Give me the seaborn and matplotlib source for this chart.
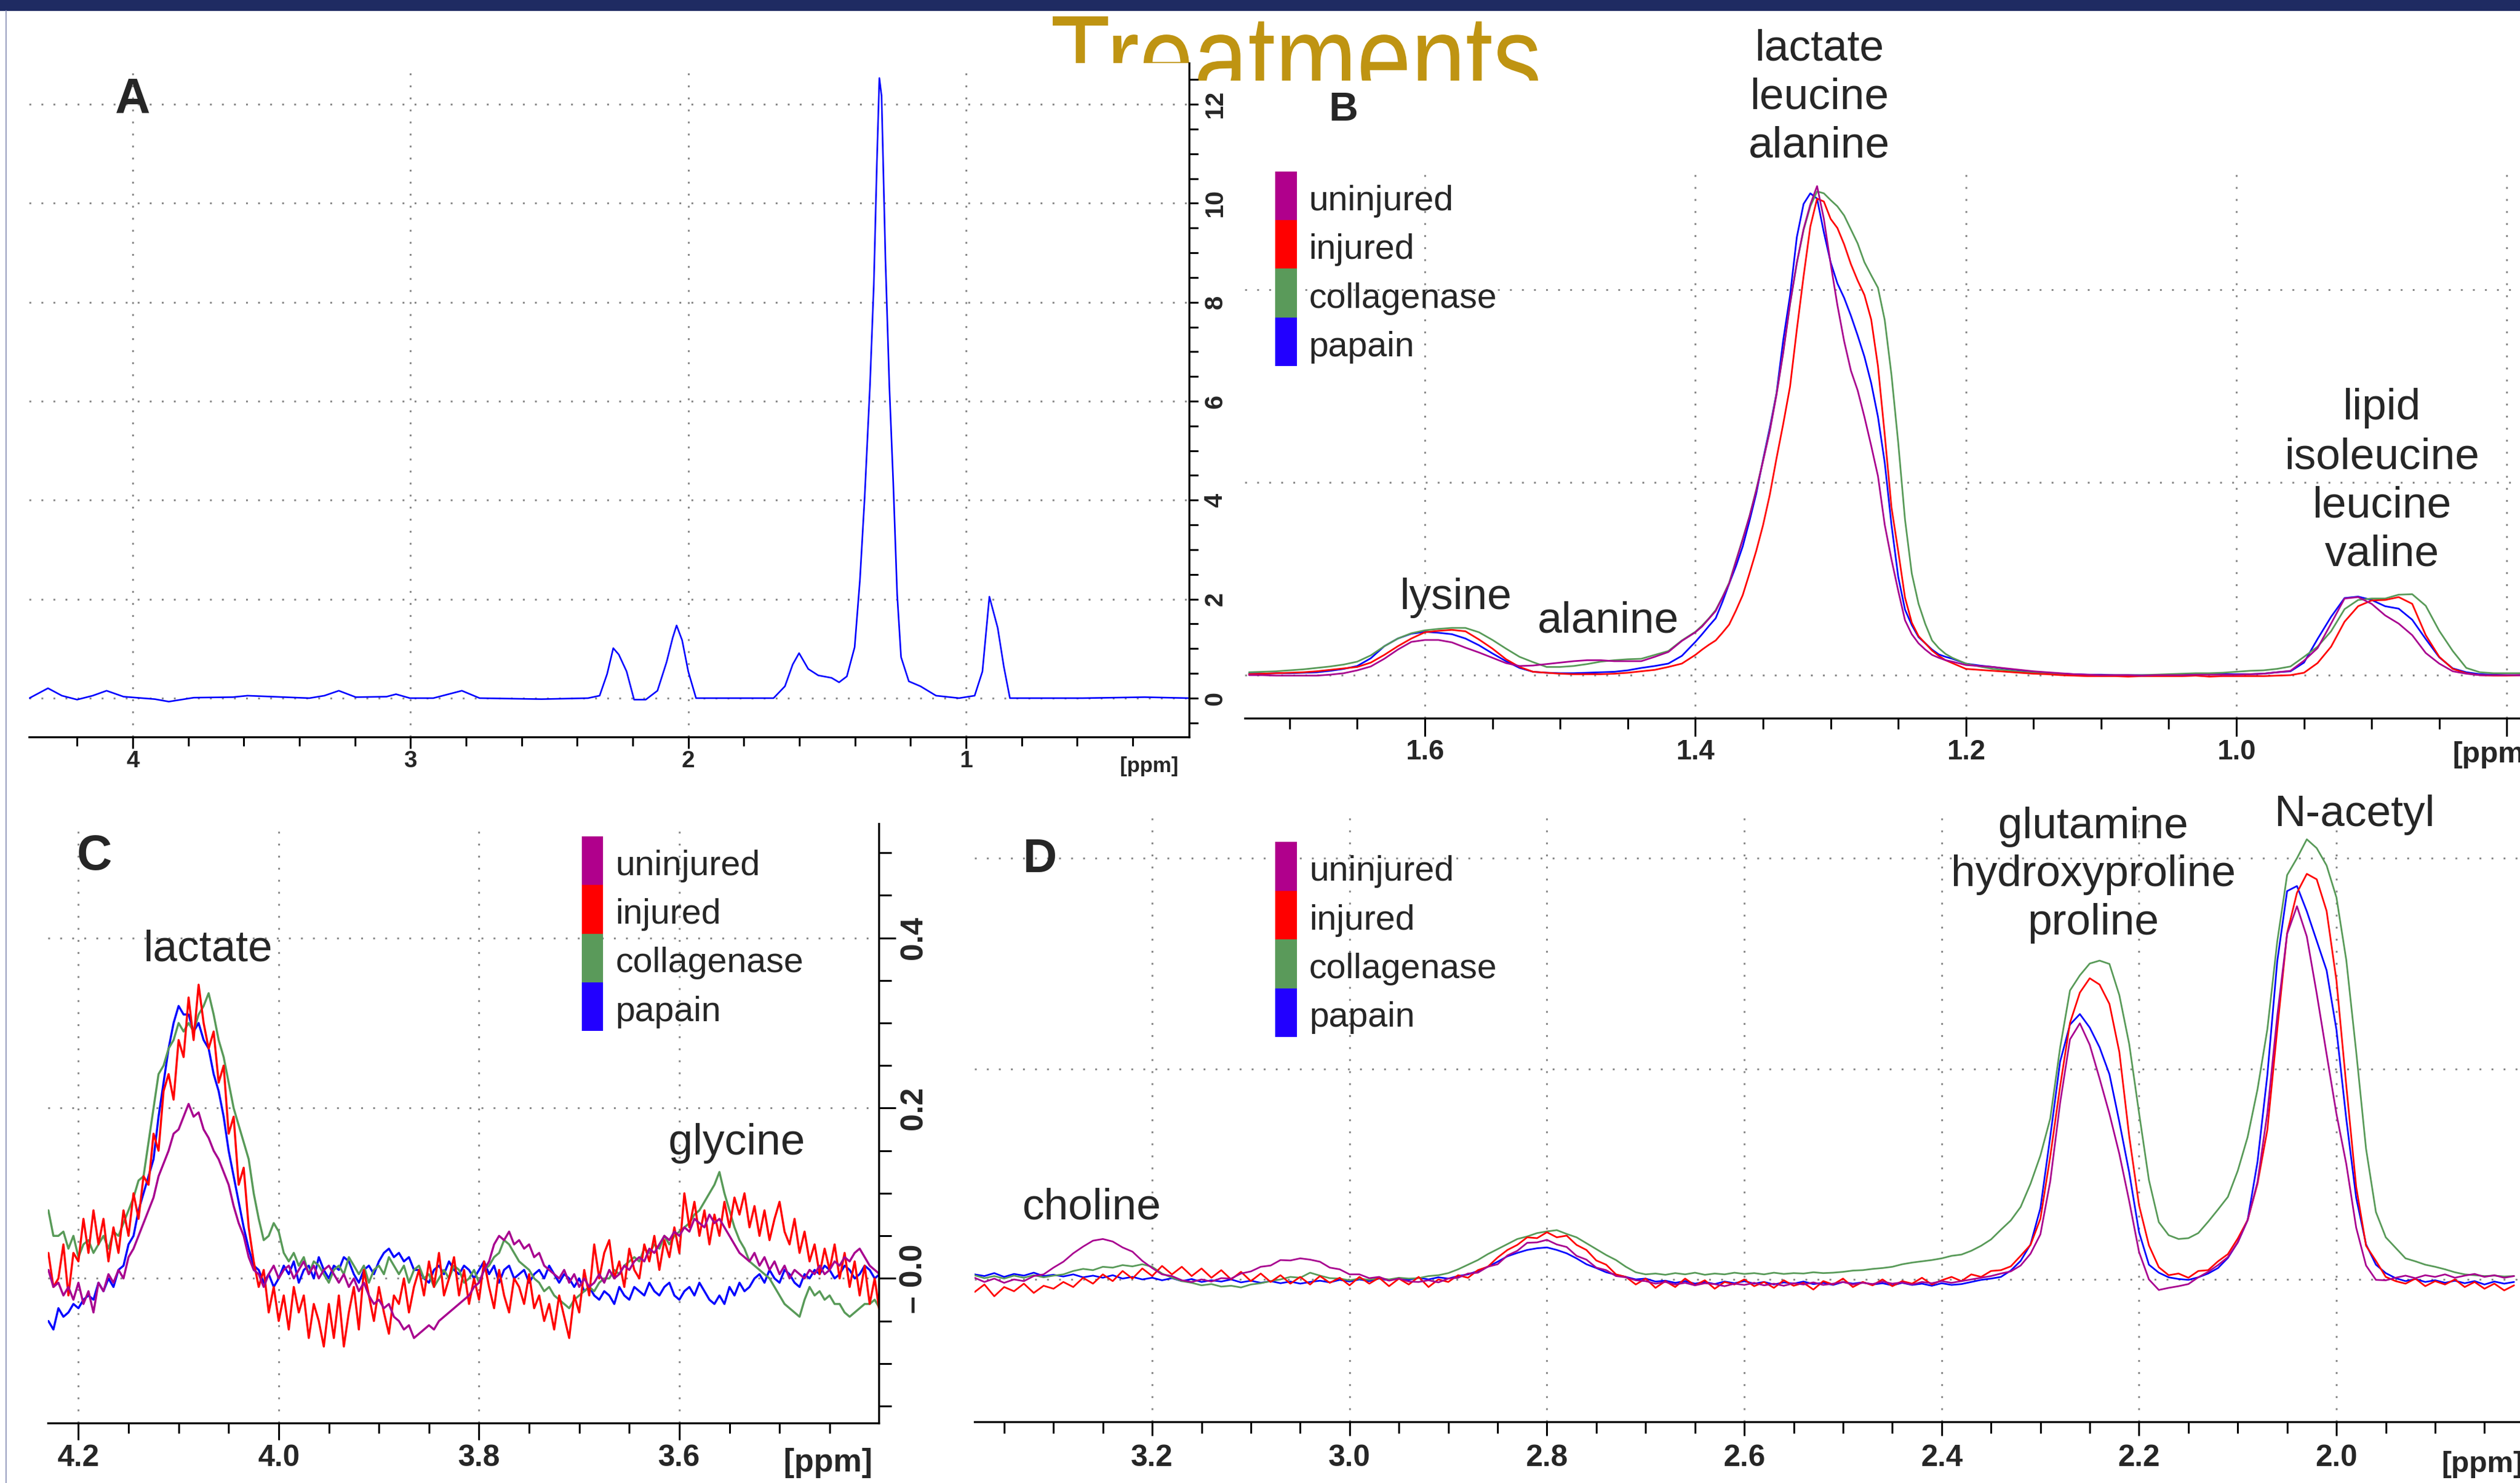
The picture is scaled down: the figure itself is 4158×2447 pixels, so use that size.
import numpy as np
import pandas as pd
import matplotlib
matplotlib.use("Agg")
import matplotlib.pyplot as plt
import seaborn as sns
from matplotlib import font_manager as fm
from matplotlib.font_manager import FontProperties as FP
from matplotlib.patches import Rectangle, PathPatch
from matplotlib.lines import Line2D
from matplotlib.ticker import FixedLocator
from matplotlib.textpath import TextPath
from matplotlib.transforms import Affine2D, IdentityTransform

# ---------------------------------------------------------------- data
TREATMENTS = ["uninjured", "injured", "collagenase", "papain"]

# Panel A: full spectrum (single trace)
A_ppm = [4.372, 4.305, 4.255, 4.200, 4.144, 4.094, 4.033, 3.920, 3.870, 3.780,
         3.640, 3.587, 3.364, 3.310, 3.258, 3.197, 3.086, 3.052, 3.002, 2.918,
         2.815, 2.751, 2.528, 2.361, 2.319, 2.292, 2.270, 2.250, 2.222, 2.195,
         2.153, 2.111, 2.078, 2.056, 2.042, 2.022, 2.000, 1.972, 1.833, 1.693,
         1.652, 1.624, 1.601, 1.568, 1.532, 1.484, 1.457, 1.429, 1.401, 1.382,
         1.365, 1.346, 1.332, 1.321, 1.312, 1.304, 1.290, 1.276, 1.262, 1.248,
         1.234, 1.206, 1.164, 1.108, 1.025, 0.969, 0.941, 0.916, 0.886, 0.864,
         0.842, 0.580, 0.357, 0.196]
A_int = [0.00, 0.20, 0.05, -0.03, 0.05, 0.15, 0.03, -0.02, -0.07, 0.01,
         0.02, 0.05, 0.00, 0.05, 0.15, 0.02, 0.03, 0.08, 0.00, 0.00,
         0.15, 0.00, -0.02, 0.00, 0.05, 0.49, 1.01, 0.88, 0.54, -0.03,
         -0.03, 0.15, 0.73, 1.22, 1.47, 1.17, 0.54, 0.00, 0.00, 0.00,
         0.24, 0.68, 0.91, 0.59, 0.46, 0.41, 0.32, 0.44, 1.03, 2.39,
         4.06, 6.30, 8.36, 10.80, 12.53, 12.17, 8.85, 6.30, 4.35, 2.10,
         0.83, 0.34, 0.24, 0.05, 0.00, 0.05, 0.54, 2.05, 1.42, 0.64,
         0.00, 0.00, 0.02, 0.00]

# Panel B: 1.73 - 0.79 ppm (sampling grid)
B_ppm = np.round(np.concatenate([np.arange(1.73, 1.405, -0.01),
                                 np.arange(1.400, 1.2075, -0.005),
                                 np.arange(1.20, 0.785, -0.01)]), 3)
B_uninjured = [0.00, 0.00, -0.01, -0.01, -0.01, -0.01, 0.01, 0.04, 0.10, 0.18,
               0.34, 0.53, 0.69, 0.73, 0.73, 0.68, 0.57, 0.47, 0.36, 0.25,
               0.19, 0.20, 0.23, 0.26, 0.29, 0.31, 0.31, 0.29, 0.29, 0.29,
               0.38, 0.48, 0.71,
               0.89, 1.01, 1.17, 1.33, 1.61, 1.90, 2.36, 2.81, 3.29, 3.83,
               4.44, 5.06, 5.82, 6.70, 7.71, 8.56, 9.26, 9.77, 10.15,
               9.47, 8.54, 7.68, 6.93, 6.32, 5.91, 5.36, 4.76, 4.13, 3.12,
               2.40, 1.75, 1.14, 0.85, 0.66, 0.53, 0.42, 0.36, 0.31, 0.28,
               0.21, 0.19, 0.17, 0.14, 0.11, 0.08, 0.06, 0.04, 0.02, 0.01,
               0.00, 0.00, 0.00, -0.01, 0.00, 0.00, 0.00, 0.01, 0.01, 0.01, 0.01,
               0.02, 0.03, 0.06, 0.09, 0.30, 0.56, 1.07, 1.59, 1.62, 1.48,
               1.24, 1.07, 0.83, 0.46, 0.24, 0.08, 0.03, 0.00, 0.00, 0.00, 0.00]
B_injured = [0.02, 0.03, 0.04, 0.05, 0.06, 0.08, 0.11, 0.14, 0.17, 0.26,
             0.42, 0.60, 0.76, 0.89, 0.92, 0.94, 0.91, 0.74, 0.55, 0.33,
             0.17, 0.07, 0.05, 0.03, 0.02, 0.02, 0.02, 0.03, 0.05, 0.08,
             0.11, 0.17, 0.24,
             0.42, 0.53, 0.63, 0.72, 0.88, 1.05, 1.34, 1.66, 2.11, 2.58,
             3.11, 3.74, 4.50, 5.22, 5.99, 7.17, 8.28, 9.31, 9.89,
             9.83, 9.47, 9.28, 8.94, 8.53, 8.19, 7.89, 7.38, 6.41, 4.99,
             3.48, 2.57, 1.61, 1.09, 0.81, 0.66, 0.51, 0.40, 0.31, 0.25,
             0.13, 0.11, 0.09, 0.07, 0.05, 0.03, 0.02, 0.00, -0.01, -0.02,
             -0.02, -0.02, -0.03, -0.02, -0.02, -0.02, -0.02, -0.01, -0.03, -0.02, -0.02,
             -0.02, -0.02, -0.01, 0.00, 0.05, 0.25, 0.59, 1.11, 1.43, 1.55,
             1.56, 1.62, 1.48, 0.83, 0.38, 0.13, 0.04, 0.00, -0.01, -0.01, 0.00]
B_collagenase = [0.06, 0.07, 0.08, 0.10, 0.12, 0.15, 0.18, 0.22, 0.28, 0.41,
                 0.60, 0.76, 0.87, 0.93, 0.96, 0.98, 0.98, 0.89, 0.73, 0.55,
                 0.38, 0.27, 0.17, 0.17, 0.19, 0.23, 0.28, 0.31, 0.33, 0.34,
                 0.42, 0.50, 0.72,
                 0.90, 1.03, 1.18, 1.35, 1.62, 1.92, 2.37, 2.83, 3.30, 3.85,
                 4.45, 5.08, 5.84, 6.71, 7.70, 8.55, 9.24, 9.73, 10.04,
                 10.00, 9.86, 9.73, 9.54, 9.25, 8.96, 8.57, 8.30, 8.04, 7.37,
                 6.23, 4.82, 3.23, 2.11, 1.48, 1.06, 0.72, 0.56, 0.44, 0.36,
                 0.24, 0.18, 0.13, 0.10, 0.07, 0.05, 0.03, 0.02, 0.01, 0.00,
                 0.00, 0.00, 0.00, 0.00, 0.01, 0.02, 0.03, 0.04, 0.04, 0.05, 0.07,
                 0.09, 0.10, 0.13, 0.18, 0.38, 0.59, 0.91, 1.37, 1.56, 1.59,
                 1.59, 1.67, 1.68, 1.44, 0.92, 0.50, 0.15, 0.06, 0.04, 0.04, 0.04]
B_papain = [0.03, 0.03, 0.04, 0.04, 0.05, 0.06, 0.09, 0.13, 0.19, 0.35,
            0.60, 0.76, 0.86, 0.90, 0.88, 0.85, 0.76, 0.62, 0.45, 0.29,
            0.15, 0.07, 0.05, 0.04, 0.04, 0.05, 0.06, 0.07, 0.10, 0.15,
            0.19, 0.24, 0.40,
            0.69, 0.85, 1.02, 1.18, 1.52, 1.90, 2.26, 2.67, 3.20, 3.77,
            4.47, 5.13, 5.85, 6.96, 7.88, 9.09, 9.78, 10.00, 9.89,
            9.19, 8.57, 8.13, 7.83, 7.46, 7.05, 6.61, 6.06, 5.36, 4.41,
            3.12, 2.04, 1.36, 1.04, 0.79, 0.66, 0.53, 0.43, 0.38, 0.34,
            0.24, 0.20, 0.17, 0.13, 0.10, 0.07, 0.05, 0.03, 0.02, 0.01,
            0.01, 0.00, 0.00, 0.00, 0.00, 0.01, 0.01, 0.01, 0.02, 0.02, 0.02,
            0.02, 0.03, 0.06, 0.08, 0.26, 0.75, 1.21, 1.60, 1.63, 1.56,
            1.43, 1.38, 1.15, 0.75, 0.37, 0.14, 0.06, 0.02, 0.01, 0.00, 0.00]

# Panel C: 4.23 - 3.40 ppm
C_ppm = np.round(np.arange(4.230, 3.3975, -0.005), 3)
C_papain = [-0.05, -0.06, -0.035, -0.045, -0.04, -0.03, -0.035, -0.025, -0.02, -0.025,
            -0.005, -0.015, 0.0, -0.01, 0.01, 0.015, 0.04, 0.05, 0.08, 0.10,
            0.12, 0.14, 0.19, 0.23, 0.27, 0.30, 0.32, 0.31, 0.31, 0.29,
            0.30, 0.28, 0.27, 0.24, 0.22, 0.19, 0.15, 0.12, 0.09, 0.06,
            0.035, 0.015, 0.01, -0.005, 0.005, -0.01, 0.0, 0.015, 0.005, 0.02,
            -0.005, 0.01, 0.015, 0.0, 0.025, 0.01, 0.0, 0.015, 0.01, 0.025,
            0.02, 0.005, -0.005, 0.01, 0.015, 0.005, 0.02, 0.03, 0.035, 0.025,
            0.03, 0.02, 0.025, 0.01, 0.01, 0.0, -0.005, 0.01, 0.015, 0.005,
            0.02, 0.01, 0.005, 0.015, 0.01, 0.0, 0.01, 0.02, 0.005, 0.015,
            -0.005, 0.01, 0.015, 0.0, 0.005, 0.01, -0.005, 0.005, 0.01, 0.0,
            0.015, 0.005, -0.005, 0.005, 0.0, -0.01, 0.0, -0.015, -0.01, -0.02,
            -0.025, -0.015, -0.02, -0.03, -0.01, -0.02, -0.025, -0.01, -0.015, -0.02,
            -0.005, -0.015, -0.02, -0.01, -0.005, -0.02, -0.025, -0.015, -0.01, -0.02,
            -0.005, -0.015, -0.025, -0.03, -0.02, -0.03, -0.01, -0.02, -0.005, -0.015,
            -0.01, 0.0, 0.005, -0.005, 0.01, 0.0, -0.005, 0.01, 0.005, -0.005,
            -0.01, 0.005, 0.0, 0.01, 0.005, 0.015, 0.01, 0.0, 0.005, 0.015,
            0.01, 0.0, 0.005, 0.015, 0.01, 0.0, 0.005]
C_collagenase = [0.08, 0.05, 0.05, 0.055, 0.035, 0.05, 0.025, 0.04, 0.045, 0.03,
                 0.04, 0.05, 0.035, 0.055, 0.05, 0.065, 0.08, 0.095, 0.115, 0.12,
                 0.16, 0.20, 0.24, 0.25, 0.27, 0.28, 0.30, 0.29, 0.30, 0.29,
                 0.31, 0.32, 0.335, 0.31, 0.28, 0.26, 0.23, 0.20, 0.18, 0.16,
                 0.14, 0.10, 0.07, 0.045, 0.05, 0.065, 0.055, 0.03, 0.02, 0.03,
                 0.015, 0.025, 0.005, 0.02, 0.015, 0.005, -0.005, 0.01, 0.015, 0.005,
                 0.025, 0.015, 0.005, 0.015, -0.005, 0.01, 0.015, 0.005, 0.025, 0.015,
                 0.005, 0.015, -0.005, 0.01, 0.015, 0.0, 0.005, -0.01, 0.0, 0.01,
                 0.0, 0.015, 0.01, -0.005, 0.0, 0.01, -0.005, 0.01, 0.015, 0.025,
                 0.03, 0.045, 0.04, 0.03, 0.02, 0.015, 0.01, 0.0, -0.005, -0.015,
                 -0.01, -0.02, -0.025, -0.03, -0.035, -0.025, -0.02, -0.015, -0.01, -0.015,
                 -0.005, 0.0, 0.0, 0.01, 0.005, 0.015, 0.02, 0.025, 0.02, 0.035,
                 0.03, 0.04, 0.035, 0.05, 0.04, 0.05, 0.055, 0.06, 0.065, 0.075,
                 0.08, 0.09, 0.10, 0.11, 0.125, 0.10, 0.08, 0.06, 0.045, 0.035,
                 0.02, 0.015, 0.01, 0.005, 0.0, -0.01, -0.02, -0.03, -0.035, -0.04,
                 -0.045, -0.025, -0.01, -0.02, -0.015, -0.025, -0.02, -0.03, -0.03, -0.04,
                 -0.045, -0.04, -0.035, -0.03, -0.03, -0.025, -0.035]
C_injured = [0.03, -0.01, 0.0, 0.04, -0.02, 0.03, 0.02, 0.07, 0.03, 0.08,
             0.04, 0.07, 0.02, 0.06, 0.03, 0.08, 0.05, 0.10, 0.07, 0.12,
             0.11, 0.17, 0.15, 0.22, 0.24, 0.21, 0.28, 0.26, 0.33, 0.28,
             0.345, 0.30, 0.27, 0.29, 0.23, 0.25, 0.17, 0.19, 0.11, 0.13,
             0.06, 0.02, -0.01, 0.01, -0.04, -0.01, -0.05, -0.02, -0.06, -0.01,
             -0.04, -0.02, -0.07, -0.03, -0.05, -0.08, -0.03, -0.07, -0.02, -0.08,
             -0.04, -0.01, -0.06, 0.01, -0.02, -0.05, -0.01, -0.04, -0.065, -0.02,
             -0.03, 0.0, -0.04, -0.01, 0.01, -0.02, 0.02, -0.01, 0.03, -0.02,
             0.0, 0.025, -0.02, 0.01, -0.03, 0.0, -0.025, 0.02, -0.01, -0.035,
             0.01, -0.02, -0.04, 0.0, -0.01, -0.03, 0.005, -0.035, -0.02, -0.05,
             -0.03, -0.06, -0.02, -0.045, -0.07, -0.02, -0.04, 0.01, -0.02, 0.04,
             0.0, 0.03, 0.045, 0.0, 0.02, -0.01, 0.035, 0.01, 0.0, 0.04,
             0.02, 0.05, 0.01, 0.045, 0.025, 0.06, 0.03, 0.10, 0.06, 0.09,
             0.05, 0.08, 0.04, 0.075, 0.05, 0.09, 0.06, 0.095, 0.075, 0.10,
             0.06, 0.085, 0.05, 0.08, 0.045, 0.07, 0.09, 0.055, 0.04, 0.07,
             0.03, 0.055, 0.02, 0.04, 0.005, 0.035, 0.01, 0.04, 0.0, 0.03,
             -0.01, 0.02, -0.02, 0.015, -0.03, 0.0, -0.04]
C_uninjured = [0.01, -0.01, -0.005, -0.02, -0.01, -0.025, -0.005, -0.03, -0.015, -0.04,
               -0.005, -0.015, 0.005, -0.005, 0.01, 0.0, 0.025, 0.035, 0.05, 0.065,
               0.08, 0.095, 0.12, 0.135, 0.15, 0.17, 0.175, 0.19, 0.205, 0.19,
               0.195, 0.175, 0.165, 0.15, 0.14, 0.125, 0.11, 0.085, 0.065, 0.05,
               0.025, 0.01, 0.005, -0.01, 0.005, 0.015, 0.0, 0.01, 0.015, 0.0,
               0.01, 0.02, 0.005, 0.015, 0.0, 0.01, 0.015, 0.005, -0.005, 0.005,
               -0.01, 0.0, -0.015, -0.005, -0.02, -0.03, -0.025, -0.035, -0.03, -0.045,
               -0.05, -0.06, -0.055, -0.07, -0.065, -0.06, -0.055, -0.06, -0.05, -0.045,
               -0.04, -0.035, -0.03, -0.025, -0.02, -0.01, -0.005, 0.01, 0.02, 0.04,
               0.05, 0.045, 0.055, 0.04, 0.045, 0.035, 0.04, 0.025, 0.03, 0.015,
               0.01, 0.005, 0.0, 0.01, -0.005, 0.005, -0.01, 0.0, -0.01, -0.005,
               0.005, -0.005, 0.01, 0.0, 0.005, 0.015, 0.01, 0.02, 0.025, 0.02,
               0.035, 0.03, 0.04, 0.05, 0.045, 0.055, 0.05, 0.06, 0.055, 0.07,
               0.065, 0.06, 0.075, 0.065, 0.07, 0.06, 0.05, 0.04, 0.03, 0.025,
               0.02, 0.03, 0.015, 0.025, 0.01, 0.02, 0.005, 0.015, 0.0, 0.01,
               0.005, 0.0, 0.01, 0.005, 0.015, 0.005, 0.01, 0.02, 0.015, 0.025,
               0.02, 0.03, 0.035, 0.025, 0.015, 0.01, 0.005]

# Panel D: 3.38 - 1.82 ppm
D_ppm = np.round(np.arange(3.38, 1.815, -0.01), 2)
D_uninjured = [0.004, -0.006, 0.002, -0.008, 0.0, -0.004, 0.008, 0.012, 0.028, 0.042,
               0.062, 0.078, 0.092, 0.096, 0.09, 0.076, 0.066, 0.044, 0.027, 0.012,
               0.008, -0.002, -0.006, 0.0, -0.005, 0.003, 0.002, 0.014, 0.019, 0.03,
               0.033, 0.046, 0.045, 0.05, 0.047, 0.042, 0.028, 0.024, 0.012, 0.012,
               0.003, 0.006, -0.003, 0.002, -0.005, -0.006, -0.002, -0.007, 0.002, 0.004,
               0.014, 0.016, 0.03, 0.036, 0.057, 0.068, 0.087, 0.088, 0.094, 0.083,
               0.077, 0.056, 0.047, 0.028, 0.022, 0.008, 0.005, -0.002, -0.004, -0.01,
               -0.006, -0.012, -0.008, -0.014, -0.009, -0.011, -0.016, -0.01, -0.013, -0.008,
               -0.014, -0.01, -0.015, -0.009, -0.012, -0.007, -0.013, -0.01, -0.006, -0.012,
               -0.008, -0.011, -0.005, -0.01, -0.007, -0.012, -0.006, -0.009, -0.004, -0.008,
               -0.004, 0.0, 0.004, 0.008, 0.014, 0.019, 0.033, 0.061, 0.107, 0.233,
               0.419, 0.57, 0.608, 0.557, 0.477, 0.393, 0.298, 0.186, 0.065, 0.0,
               -0.025, -0.02, -0.016, -0.011, 0.005, 0.018, 0.034, 0.053, 0.088, 0.141,
               0.231, 0.395, 0.625, 0.82, 0.886, 0.814, 0.679, 0.535, 0.393, 0.274,
               0.123, 0.033, -0.001, -0.002, 0.004, 0.009, 0.003, 0.01, 0.006, 0.012,
               0.004, 0.009, 0.013, 0.006, 0.01, 0.004, 0.008]
D_injured = [-0.03, -0.012, -0.04, -0.018, -0.028, -0.01, -0.032, -0.015, -0.022, -0.006,
             -0.018, 0.004, -0.01, 0.012, -0.004, 0.02, 0.002, 0.026, 0.008, 0.032,
             0.012, 0.03, 0.008, 0.026, 0.004, 0.022, 0.0, 0.018, -0.004, 0.014,
             -0.006, 0.01, -0.01, 0.006, -0.012, 0.008, -0.008, 0.004, -0.014, 0.006,
             -0.01, 0.004, -0.016, 0.002, -0.012, 0.006, -0.018, 0.0, -0.006, 0.01,
             0.004, 0.022, 0.03, 0.052, 0.07, 0.082, 0.1, 0.098, 0.112, 0.1,
             0.104, 0.082, 0.07, 0.045, 0.035, 0.012, 0.006, -0.012, 0.002, -0.02,
             -0.004, -0.018, 0.002, -0.014, -0.002, -0.022, -0.006, -0.012, 0.0, -0.016,
             -0.006, -0.02, -0.002, -0.015, -0.008, -0.024, -0.004, -0.012, 0.002, -0.018,
             -0.006, -0.014, 0.0, -0.016, -0.004, -0.01, 0.004, -0.012, -0.002, 0.006,
             -0.004, 0.012, 0.006, 0.02, 0.022, 0.031, 0.056, 0.082, 0.144, 0.292,
             0.458, 0.609, 0.681, 0.715, 0.70, 0.654, 0.54, 0.34, 0.176, 0.081,
             0.029, 0.01, 0.014, 0.004, 0.02, 0.022, 0.043, 0.06, 0.097, 0.141,
             0.227, 0.355, 0.593, 0.822, 0.918, 0.963, 0.95, 0.875, 0.71, 0.46,
             0.22, 0.08, 0.044, 0.006, -0.004, -0.01, 0.002, -0.016, -0.004, -0.012,
             0.0, -0.018, -0.006, -0.022, -0.01, -0.026, -0.014]
D_collagenase = [0.01, 0.003, 0.008, 0.002, 0.009, 0.004, 0.01, 0.005, 0.009, 0.012,
                 0.02, 0.025, 0.022, 0.03, 0.028, 0.034, 0.031, 0.036, 0.03, 0.014,
                 0.004, -0.004, -0.008, -0.014, -0.011, -0.017, -0.015, -0.019, -0.012, -0.009,
                 -0.004, 0.0, 0.006, 0.004, 0.016, 0.009, 0.003, 0.002, -0.002, 0.002,
                 -0.001, 0.003, 0.0, 0.004, 0.002, 0.003, 0.008, 0.01, 0.015, 0.024,
                 0.035, 0.046, 0.06, 0.072, 0.084, 0.096, 0.102, 0.11, 0.114, 0.117,
                 0.108, 0.1, 0.086, 0.072, 0.058, 0.046, 0.03, 0.017, 0.012, 0.014,
                 0.011, 0.015, 0.012, 0.016, 0.011, 0.014, 0.012, 0.016, 0.013, 0.015,
                 0.012, 0.016, 0.013, 0.015, 0.014, 0.017, 0.015, 0.016, 0.018, 0.021,
                 0.022, 0.025, 0.027, 0.03, 0.036, 0.04, 0.043, 0.046, 0.05, 0.056,
                 0.059, 0.068, 0.08, 0.095, 0.118, 0.14, 0.172, 0.227, 0.294, 0.382,
                 0.55, 0.686, 0.722, 0.75, 0.757, 0.749, 0.675, 0.559, 0.395, 0.236,
                 0.136, 0.105, 0.096, 0.098, 0.11, 0.137, 0.166, 0.196, 0.258, 0.338,
                 0.451, 0.594, 0.802, 0.96, 1.0, 1.045, 1.024, 0.983, 0.907, 0.758,
                 0.541, 0.31, 0.16, 0.10, 0.075, 0.05, 0.043, 0.035, 0.03, 0.024,
                 0.017, 0.012, 0.01, 0.008, 0.009, 0.007, 0.008]
D_papain = [0.012, 0.008, 0.015, 0.006, 0.013, 0.009, 0.016, 0.008, 0.011, 0.007,
            0.012, 0.005, 0.009, 0.004, 0.01, 0.002, 0.006, 0.0, 0.004, -0.002,
            0.003, -0.004, 0.001, -0.006, -0.002, -0.005, 0.0, -0.007, -0.003, -0.008,
            -0.004, -0.009, -0.005, -0.01, -0.006, -0.003, -0.007, -0.001, -0.005, 0.0,
            -0.004, 0.002, -0.002, 0.003, -0.001, 0.004, 0.0, 0.005, 0.002, 0.008,
            0.012, 0.02, 0.03, 0.042, 0.055, 0.063, 0.07, 0.074, 0.076, 0.07,
            0.062, 0.05, 0.036, 0.027, 0.017, 0.011, 0.006, 0.0, 0.002, -0.005,
            -0.003, -0.008, -0.004, -0.01, -0.006, -0.011, -0.005, -0.009, -0.004, -0.01,
            -0.006, -0.012, -0.007, -0.01, -0.005, -0.011, -0.008, -0.013, -0.006, -0.01,
            -0.007, -0.012, -0.009, -0.014, -0.008, -0.013, -0.01, -0.015, -0.009, -0.013,
            -0.011, -0.006, -0.001, 0.002, 0.006, 0.021, 0.044, 0.083, 0.169, 0.339,
            0.517, 0.605, 0.63, 0.598, 0.551, 0.487, 0.374, 0.254, 0.112, 0.035,
            0.016, 0.005, 0.001, -0.001, 0.005, 0.014, 0.027, 0.051, 0.088, 0.141,
            0.279, 0.485, 0.755, 0.922, 0.934, 0.874, 0.804, 0.734, 0.593, 0.381,
            0.194, 0.083, 0.035, 0.015, 0.003, -0.004, 0.001, -0.006, -0.002, -0.008,
            -0.003, -0.009, -0.004, -0.012, -0.005, -0.01, -0.006]

# ---------------------------------------------------------------- style
W, H, DPI = 4158, 2447, 100
LINE_COLORS = {"uninjured": "#A8008F", "injured": "#FF0000",
               "collagenase": "#589A58", "papain": "#0000FF"}
SWATCH_COLORS = ["#B0008C", "#FF0000", "#5A9A5A", "#2200FF"]
DRAW_ORDER = ["papain", "collagenase", "injured", "uninjured"]
GRID_KW = dict(color="#8A8A8A", linestyle=(0, (1, 5.5)), linewidth=2.2)


def has_font(name):
    try:
        fm.findfont(fm.FontProperties(family=name), fallback_to_default=False)
        return True
    except Exception:
        return False


NARROW_OK = has_font("Liberation Sans Narrow")
NARROW = "Liberation Sans Narrow" if NARROW_OK else "Liberation Sans"

sns.set_theme(style="white")
plt.rcParams["font.family"] = ["Liberation Sans", "DejaVu Sans"]


def fp(size, bold=False, narrow=False):
    fam = NARROW if narrow else "Liberation Sans"
    if narrow and not NARROW_OK:
        size *= 0.82
    return FP(family=[fam, "DejaVu Sans"], weight="bold" if bold else "normal", size=size)


fig = plt.figure(figsize=(W / DPI, H / DPI), dpi=DPI)
fig.patch.set_facecolor("white")


def box(x0, y0, x1, y1):
    return [x0 / W, 1 - y1 / H, (x1 - x0) / W, (y1 - y0) / H]


def ftext(x, y, s, **kw):
    fig.text(x / W, 1 - y / H, s, **kw)


def frect(x0, y0, x1, y1, **kw):
    fig.add_artist(Rectangle((x0 / W, 1 - y1 / H), (x1 - x0) / W, (y1 - y0) / H,
                             transform=fig.transFigure, **kw))


# header bar, left rule
frect(0, 0, W, 18, facecolor="#1F2B62", edgecolor="none", zorder=10)
fig.add_artist(Line2D([10 / W, 10 / W], [0, 1 - 18 / H], transform=fig.transFigure,
                      color="#9AA0C0", lw=1.5, zorder=10))

# title: a tall, condensed glyph outline fitted to its box (x 1737-2538, top 27, baseline 165)
title_path = TextPath((0, 0), "Treatments", prop=FP(family="Liberation Sans", size=100))
ext = title_path.get_extents()
sx = (2538 - 1737) / ext.width
sy = (165 - 27) / ext.y1
title_tr = (Affine2D().translate(-ext.x0, 0).scale(sx, sy).translate(1737, H - 165)
            + IdentityTransform())
fig.add_artist(PathPatch(title_path, transform=title_tr, facecolor="#BF9412",
                         edgecolor="none", zorder=-2))
# white band hides the lower part of the title above panel B
frect(1962, 133, W, 260, facecolor="white", edgecolor="none", zorder=-1)

axA = fig.add_axes(box(48, 104, 1962, 1216))
axB = fig.add_axes(box(2054, 283, 4158, 1185))
axC = fig.add_axes(box(79, 1359, 1450, 2348))
axD = fig.add_axes(box(1608, 1339, 4158, 2346))
for ax in (axB, axC, axD):
    ax.set_facecolor("none")


def long_df(ppm, series):
    frames = []
    for name, vals in series.items():
        vals = np.asarray(vals, dtype=float)
        assert len(vals) == len(ppm), (name, len(vals), len(ppm))
        frames.append(pd.DataFrame({"ppm": ppm, "intensity": vals, "treatment": name}))
    return pd.concat(frames, ignore_index=True)


# ---------------------------------------------------------------- panel A
sns.lineplot(x=A_ppm, y=A_int, color="#0000FF", linewidth=1.9, estimator=None,
             sort=False, ax=axA)

# ---------------------------------------------------------------- panels B, C, D
dfB = long_df(B_ppm, {"uninjured": B_uninjured, "injured": B_injured,
                      "collagenase": B_collagenase, "papain": B_papain})
dfC = long_df(C_ppm, {"uninjured": C_uninjured, "injured": C_injured,
                      "collagenase": C_collagenase, "papain": C_papain})
dfD = long_df(D_ppm, {"uninjured": D_uninjured, "injured": D_injured,
                      "collagenase": D_collagenase, "papain": D_papain})
for ax, df, lw in ((axB, dfB, 2.0), (axC, dfC, 2.5), (axD, dfD, 2.0)):
    sns.lineplot(data=df, x="ppm", y="intensity", hue="treatment",
                 hue_order=DRAW_ORDER, palette=LINE_COLORS, estimator=None,
                 sort=False, legend=False, linewidth=lw, ax=ax)

for ax in (axA, axB, axC, axD):
    ax.set_xlabel("")
    ax.set_ylabel("")
    ax.set_axisbelow(True)
    for s in ax.spines.values():
        s.set_visible(False)
        s.set_linewidth(2.4)
        s.set_color("black")
    ax.spines["bottom"].set_visible(True)
    ax.tick_params(axis="both", which="both", direction="out", color="black",
                   width=2.2, bottom=True, top=False, left=False, right=False)
    ax.grid(True, which="major", **GRID_KW)
    ax.grid(False, which="minor")

# A axes
axA.set_xlim(4.373, 0.197)
axA.set_ylim(-0.784, 12.833)
axA.spines["right"].set_visible(True)
axA.set_xticks([4, 3, 2, 1])
axA.set_xticklabels(["4", "3", "2", "1"], fontproperties=fp(28, True))
axA.xaxis.set_minor_locator(FixedLocator([4.2, 3.8, 3.6, 3.4, 3.2, 2.8, 2.6, 2.4, 2.2,
                                          1.8, 1.6, 1.4, 1.2, 0.8, 0.6, 0.4]))
axA.tick_params(axis="x", which="major", length=14, pad=1.5)
axA.tick_params(axis="x", which="minor", length=11)
axA.yaxis.tick_right()
axA.set_yticks([0, 2, 4, 6, 8, 10, 12])
axA.set_yticklabels(["0", "2", "4", "6", "8", "10", "12"], rotation=90, va="center",
                    fontproperties=fp(30, True))
axA.yaxis.set_minor_locator(FixedLocator([-0.5, 0.5, 1, 1.5, 2.5, 3, 3.5, 4.5, 5, 5.5,
                                          6.5, 7, 7.5, 8.5, 9, 9.5, 10.5, 11, 11.5, 12.5]))
axA.tick_params(axis="y", which="both", right=True, left=False, labelright=True,
                labelleft=False, length=11, width=2.2, pad=6)
ftext(1896, 1274, "[ppm]", ha="center", va="baseline", fontproperties=fp(25, True))

# B axes
axB.set_xlim(1.7331, 0.7903)
axB.set_ylim(-0.893, 10.453)
axB.set_xticks([1.6, 1.4, 1.2, 1.0, 0.8])
axB.set_xticklabels(["1.6", "1.4", "1.2", "1.0", ""], fontproperties=fp(33, True))
axB.xaxis.set_minor_locator(FixedLocator([1.70, 1.65, 1.55, 1.50, 1.45, 1.35, 1.30, 1.25,
                                          1.15, 1.10, 1.05, 0.95, 0.90, 0.85]))
axB.tick_params(axis="x", which="major", length=21.6, pad=3)
axB.tick_params(axis="x", which="minor", length=13)
axB.set_yticks([0, 4, 8])
axB.tick_params(axis="y", left=False, labelleft=False)
ftext(4046, 1258, "[ppm]", ha="left", va="baseline", fontproperties=fp(35, True))

# C axes
axC.set_xlim(4.2305, 3.4009)
axC.set_ylim(-0.1698, 0.5342)
axC.spines["right"].set_visible(True)
axC.set_xticks([4.2, 4.0, 3.8, 3.6])
axC.set_xticklabels(["4.2", "4.0", "3.8", "3.6"], fontproperties=fp(36, True))
axC.xaxis.set_minor_locator(FixedLocator([4.15, 4.10, 4.05, 3.95, 3.90, 3.85, 3.75, 3.70,
                                          3.65, 3.55, 3.50, 3.45]))
axC.tick_params(axis="x", which="major", length=20, pad=5)
axC.tick_params(axis="x", which="minor", length=12)
axC.yaxis.tick_right()
axC.set_yticks([0.0, 0.2, 0.4])
axC.set_yticklabels(["\u2013 0.0", "0.2", "0.4"], rotation=90, va="center",
                    fontproperties=fp(37, True))
axC.yaxis.set_minor_locator(FixedLocator([-0.15, -0.10, -0.05, 0.05, 0.10, 0.15, 0.25,
                                          0.30, 0.35, 0.45, 0.50]))
axC.tick_params(axis="y", which="major", right=True, left=False, labelright=True,
                labelleft=False, length=20, width=2.2, pad=4)
axC.tick_params(axis="y", which="minor", right=True, left=False, length=15, width=2.2)
ftext(1366, 2428, "[ppm]", ha="center", va="baseline", fontproperties=fp(38, True))

# D axes
axD.set_xlim(3.380, 1.814)
axD.set_ylim(-0.338, 1.111)
axD.set_xticks([3.2, 3.0, 2.8, 2.6, 2.4, 2.2, 2.0])
axD.set_xticklabels(["3.2", "3.0", "2.8", "2.6", "2.4", "2.2", "2.0"],
                    fontproperties=fp(36, True))
axD.xaxis.set_minor_locator(FixedLocator([3.35, 3.30, 3.25, 3.15, 3.10, 3.05, 2.95, 2.90,
                                          2.85, 2.75, 2.70, 2.65, 2.55, 2.50, 2.45, 2.35,
                                          2.30, 2.25, 2.15, 2.10, 2.05, 1.95, 1.90, 1.85]))
axD.tick_params(axis="x", which="major", length=16.5, pad=10)
axD.tick_params(axis="x", which="minor", length=13.7)
axD.set_yticks([0.0, 0.5, 1.0])
axD.tick_params(axis="y", left=False, labelleft=False)
ftext(4028, 2429, "[ppm]", ha="left", va="baseline", fontproperties=fp(35, True))

# ---------------------------------------------------------------- legends
def legend(x0, top, xt, seg=80.25, w=36):
    for i, (name, col) in enumerate(zip(TREATMENTS, SWATCH_COLORS)):
        frect(x0, top + i * seg, x0 + w, top + (i + 1) * seg, facecolor=col,
              edgecolor="none", zorder=4)
        ftext(xt, top + i * seg + 64, name, ha="left", va="baseline",
              fontproperties=fp(51, narrow=True), zorder=4)


legend(2104, 283, 2159)
legend(960, 1380, 1015, w=35)
legend(2104, 1389, 2160, seg=80.5)

# ---------------------------------------------------------------- labels
LAB = fp(52)
for s, x, y in [("lactate", 3002, 100), ("leucine", 3002, 179), ("alanine", 3002, 259),
                ("lysine", 2402, 1005), ("alanine", 2654, 1043),
                ("lipid", 3930, 692), ("isoleucine", 3930, 773), ("leucine", 3930, 853),
                ("valine", 3930, 933),
                ("lactate", 343, 1586), ("glycine", 1216, 1905),
                ("choline", 1802, 2012),
                ("glutamine", 3454, 1383), ("hydroxyproline", 3454, 1462),
                ("proline", 3454, 1542), ("N-acetyl", 3885, 1363)]:
    ftext(x, y, s, ha="center", va="baseline", fontproperties=LAB, zorder=4)

for s, x, y, size in [("A", 219, 185, 58), ("B", 2217, 199, 48),
                      ("C", 156, 1435, 58), ("D", 1716, 1439, 56)]:
    ftext(x, y, s, ha="center", va="baseline", fontproperties=fp(size, True), zorder=4)

fig.savefig("out.png", dpi=DPI, facecolor="white")
